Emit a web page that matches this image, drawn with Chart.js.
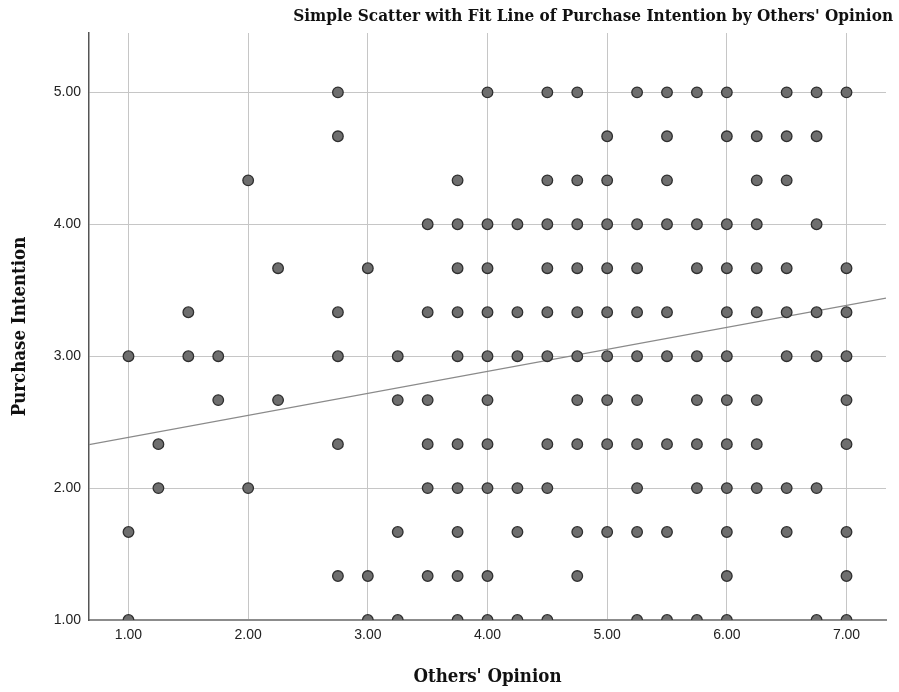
<!DOCTYPE html>
<html>
<head>
<meta charset="utf-8">
<script src="https://cdn.jsdelivr.net/npm/chart.js@4.4.1/dist/chart.umd.min.js"></script>
<style>
  body { margin: 0; background: #fff; }
</style>
</head>
<body>
<canvas id="scatter" width="899" height="692"></canvas>
<script>
const chartTitle = "Simple Scatter with Fit Line of Purchase Intention by Others' Opinion";
const xTitle = "Others' Opinion";
const yTitle = "Purchase Intention";

// purchase intention levels (rows of the scatter)
const intentionLevels = [5, 4.667, 4.333, 4, 3.667, 3.333, 3, 2.667, 2.333, 2, 1.667, 1.333, 1];

// others' opinion values found on each intention level
const opinionAtLevel = [
  [2.75, 4, 4.5, 4.75, 5.25, 5.5, 5.75, 6, 6.5, 6.75, 7],
  [2.75, 5, 5.5, 6, 6.25, 6.5, 6.75],
  [2, 3.75, 4.5, 4.75, 5, 5.5, 6.25, 6.5],
  [3.5, 3.75, 4, 4.25, 4.5, 4.75, 5, 5.25, 5.5, 5.75, 6, 6.25, 6.75],
  [2.25, 3, 3.75, 4, 4.5, 4.75, 5, 5.25, 5.75, 6, 6.25, 6.5, 7],
  [1.5, 2.75, 3.5, 3.75, 4, 4.25, 4.5, 4.75, 5, 5.25, 5.5, 6, 6.25, 6.5, 6.75, 7],
  [1, 1.5, 1.75, 2.75, 3.25, 3.75, 4, 4.25, 4.5, 4.75, 5, 5.25, 5.5, 5.75, 6, 6.5, 6.75, 7],
  [1.75, 2.25, 3.25, 3.5, 4, 4.75, 5, 5.25, 5.75, 6, 6.25, 7],
  [1.25, 2.75, 3.5, 3.75, 4, 4.5, 4.75, 5, 5.25, 5.5, 5.75, 6, 6.25, 7],
  [1.25, 2, 3.5, 3.75, 4, 4.25, 4.5, 5.25, 5.75, 6, 6.25, 6.5, 6.75],
  [1, 3.25, 3.75, 4.25, 4.75, 5, 5.25, 5.5, 6, 6.5, 7],
  [2.75, 3, 3.5, 3.75, 4, 4.75, 6, 7],
  [1, 3, 3.25, 3.75, 4, 4.25, 4.5, 5.25, 5.5, 5.75, 6, 6.75, 7]
];

// fit line end points
const fitX = [0.67, 7.33];
const fitY = [2.33, 3.44];

const xRange = [0.67, 7.33];
const yRange = [1, 5.45];

const points = [];
intentionLevels.forEach((y, i) => {
  opinionAtLevel[i].forEach(x => points.push({ x: x, y: y }));
});

const fitLine = fitX.map((x, i) => ({ x: x, y: fitY[i] }));

const titleFont = '"DejaVu Serif Condensed", "DejaVu Serif", serif';
const tickFont = '"Liberation Sans", Arial, sans-serif';

const titlePlugin = {
  id: 'cornerTitle',
  afterDraw(chart) {
    const ctx = chart.ctx;
    ctx.save();
    ctx.font = 'bold 17px ' + titleFont;
    ctx.fillStyle = '#111';
    ctx.textAlign = 'right';
    ctx.textBaseline = 'middle';
    ctx.fillText(chartTitle, 893, 17);
    ctx.restore();
  }
};

new Chart(document.getElementById('scatter'), {
  type: 'scatter',
  data: {
    datasets: [
      {
        type: 'line',
        data: fitLine,
        borderColor: '#8a8a8a',
        borderWidth: 1.2,
        pointRadius: 0,
        fill: false,
        order: 2
      },
      {
        data: points,
        backgroundColor: '#6e6e6e',
        borderColor: '#2f2f2f',
        borderWidth: 1.3,
        pointRadius: 5.3,
        pointHoverRadius: 5.3,
        order: 1
      }
    ]
  },
  options: {
    responsive: false,
    animation: false,
    layout: { padding: { top: 33, right: 13, left: 0, bottom: 0 } },
    plugins: {
      legend: { display: false },
      tooltip: { enabled: false },
      title: { display: false }
    },
    scales: {
      x: {
        type: 'linear',
        min: xRange[0],
        max: xRange[1],
        afterFit: scale => { scale.height = 72; },
        ticks: {
          stepSize: 1,
          includeBounds: false,
          padding: 7,
          color: '#222',
          font: { family: tickFont, size: 14 },
          callback: v => v.toFixed(2)
        },
        grid: { color: '#c6c6c6', lineWidth: 1, drawTicks: false },
        border: { color: '#8c8c8c', width: 2 },
        title: {
          display: true,
          text: xTitle,
          color: '#111',
          font: { family: titleFont, size: 18.5, weight: 'bold' },
          padding: { top: 0, bottom: 4 }
        }
      },
      y: {
        type: 'linear',
        min: yRange[0],
        max: yRange[1],
        afterFit: scale => { scale.width = 89; },
        ticks: {
          stepSize: 1,
          includeBounds: false,
          padding: 8,
          color: '#222',
          font: { family: tickFont, size: 14 },
          callback: v => v.toFixed(2)
        },
        grid: { color: '#c6c6c6', lineWidth: 1, drawTicks: false },
        border: { color: '#555', width: 1.5 },
        title: {
          display: true,
          text: yTitle,
          color: '#111',
          font: { family: titleFont, size: 18.5, weight: 'bold' },
          padding: { top: 9, bottom: 0 }
        }
      }
    }
  },
  plugins: [titlePlugin]
});
</script>
</body>
</html>
